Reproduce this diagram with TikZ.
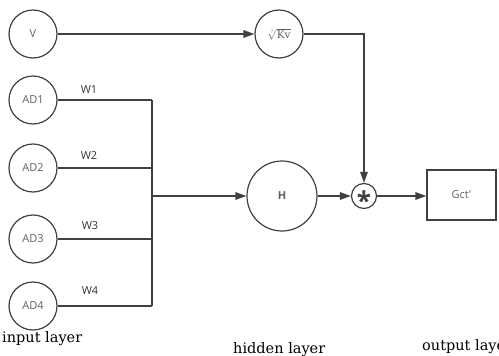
\documentclass[tikz,border=0pt]{standalone}
\usepackage{fontspec}
\setmainfont{DejaVu Serif}
\newfontfamily\nodefont{Open Sans}
\usetikzlibrary{arrows.meta}
\definecolor{linec}{HTML}{404040}
\definecolor{txtc}{HTML}{606060}
\tikzset{
  adnode/.style={draw=linec, line width=1.2pt, circle, minimum size=48pt, inner sep=0pt, font=\nodefont\fontsize{11}{12}\selectfont, text=txtc},
  conn/.style={draw=linec, line width=1.5pt},
  arr/.style={conn, -{Triangle[length=11pt,width=7.5pt]}},
  wlab/.style={font=\nodefont\fontsize{11}{12}\selectfont, text=black!80},
  layer/.style={font=\fontsize{14.5}{15}\selectfont, anchor=base west, inner sep=0pt, text=black}
}
\begin{document}
\begin{tikzpicture}[x=1pt,y=-1pt]
\useasboundingbox (0,0) rectangle (499,356);
\clip (0,0) rectangle (499,356);
\node[adnode] (V) at (33,34) {V};
\node[adnode] (K) at (279,34) {\fontsize{10.5}{11}\selectfont$\sqrt[\scriptscriptstyle ?]{\mathrm{Kv}}$};
\node[adnode] (A1) at (33,100) {AD1};
\node[adnode] (A2) at (33,168) {AD2};
\node[adnode] (A3) at (33,239) {AD3};
\node[adnode] (A4) at (33,306) {AD4};
\node[adnode, minimum size=70pt, font=\nodefont\bfseries\fontsize{11}{12}\selectfont] (H) at (282,196) {H};
\node[draw=linec, line width=1.2pt, circle, minimum size=25pt, inner sep=0pt] (S) at (364,196) {};
\node[font=\nodefont\bfseries\fontsize{26}{26}\selectfont, text=linec, inner sep=0pt] (Sa) at (364,201) {*};
\node[draw=linec, line width=1.2pt, minimum width=69pt, minimum height=50pt, inner sep=0pt, font=\nodefont\fontsize{11}{12}\selectfont, text=txtc] (G) at (461.5,195) {Gct'};
\coordinate (b1) at (152,100);
\coordinate (b4) at (152,306);
\coordinate (bo) at (152,196);
\coordinate (kc) at (364,34);
\draw[arr] (V) -- (K);
\draw[conn] (A1) -- (b1);
\draw[conn] (A2) -- (A2 -| b1);
\draw[conn] (A3) -- (A3 -| b1);
\draw[conn] (A4) -- (b4);
\draw[conn] (b1) -- (b4);
\draw[arr] (bo) -- (H);
\draw[arr] (K) -- (kc) -- (S);
\draw[arr] (H) -- (S);
\draw[arr] (S) -- (S -| G.west);
\node[wlab] (w1) at (89,90) {W1};
\node[wlab] (w2) at (89,156) {W2};
\node[wlab] (w3) at (90,226) {W3};
\node[wlab] (w4) at (90,291) {W4};
\node[layer] (l1) at (2,342) {input layer};
\node[layer] (l2) at (233,353) {hidden layer};
\node[layer] (l3) at (422,350) {output layer};
\end{tikzpicture}
\end{document}
